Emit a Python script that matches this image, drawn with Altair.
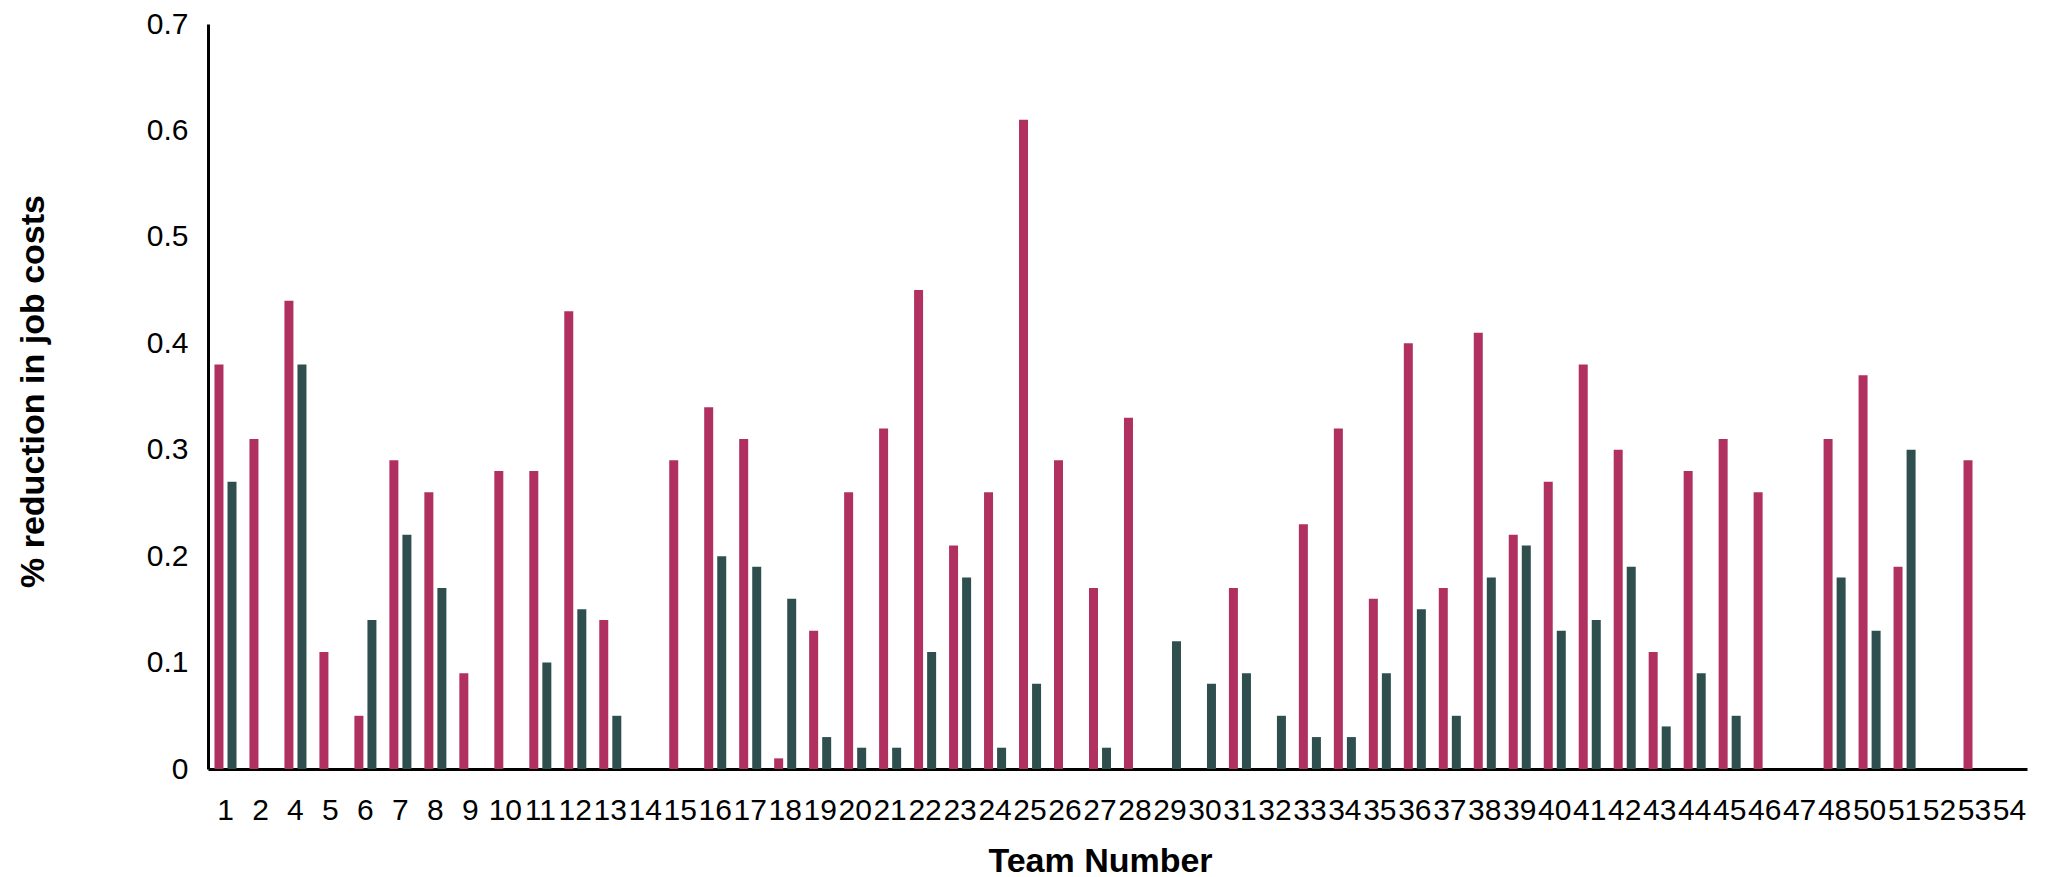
import altair as alt
import pandas as pd

teams = ["1", "2", "4", "5", "6", "7", "8", "9", "10", "11", "12", "13", "14",
         "15", "16", "17", "18", "19", "20", "21", "22", "23", "24", "25", "26",
         "27", "28", "29", "30", "31", "32", "33", "34", "35", "36", "37", "38",
         "39", "40", "41", "42", "43", "44", "45", "46", "47", "48", "50", "51",
         "52", "53", "54"]

series_1 = [0.38, 0.31, 0.44, 0.11, 0.05, 0.29, 0.26, 0.09, 0.28, 0.28, 0.43, 0.14, 0.0,
            0.29, 0.34, 0.31, 0.01, 0.13, 0.26, 0.32, 0.45, 0.21, 0.26, 0.61, 0.29,
            0.17, 0.33, 0.0, 0.0, 0.17, 0.0, 0.23, 0.32, 0.16, 0.40, 0.17, 0.41,
            0.22, 0.27, 0.38, 0.30, 0.11, 0.28, 0.31, 0.26, 0.0, 0.31, 0.37, 0.19,
            0.0, 0.29, 0.0]

series_2 = [0.27, 0.0, 0.38, 0.0, 0.14, 0.22, 0.17, 0.0, 0.0, 0.10, 0.15, 0.05, 0.0,
            0.0, 0.20, 0.19, 0.16, 0.03, 0.02, 0.02, 0.11, 0.18, 0.02, 0.08, 0.0,
            0.02, 0.0, 0.12, 0.08, 0.09, 0.05, 0.03, 0.03, 0.09, 0.15, 0.05, 0.18,
            0.21, 0.13, 0.14, 0.19, 0.04, 0.09, 0.05, 0.0, 0.0, 0.18, 0.13, 0.30,
            0.0, 0.0, 0.0]

series_names = ["Series 1", "Series 2"]
series_colors = ["#B03060", "#2F4F4F"]
y_ticks = [0, 0.1, 0.2, 0.3, 0.4, 0.5, 0.6, 0.7]

rows = []
for t, a, b in zip(teams, series_1, series_2):
    rows.append({"team": t, "series": series_names[0], "value": a})
    rows.append({"team": t, "series": series_names[1], "value": b})
df = pd.DataFrame(rows)

chart = alt.Chart(df).mark_bar().encode(
    x=alt.X("team:N", sort=teams,
            scale=alt.Scale(domain=teams, paddingInner=0.37, paddingOuter=0.185),
            axis=alt.Axis(title="Team Number", labelAngle=0, labelPadding=26,
                          labelFontSize=30, titleFontSize=34, titleFontWeight="bold",
                          titleX=892, titleY=75, titleBaseline="top", titleAlign="center")),
    xOffset=alt.XOffset("series:N", sort=series_names,
                        scale=alt.Scale(domain=series_names, paddingInner=0.31, paddingOuter=0)),
    y=alt.Y("value:Q", scale=alt.Scale(domain=[0, 0.7], nice=False, zero=True),
            axis=alt.Axis(title="% reduction in job costs", values=y_ticks, format=".1~f",
                          labelPadding=20, labelFontSize=30, titleFontSize=34,
                          titleFontWeight="bold", titleAngle=270, titleX=-175, titleY=367,
                          titleBaseline="middle", titleAlign="center")),
    color=alt.Color("series:N", scale=alt.Scale(domain=series_names, range=series_colors),
                    legend=None),
).properties(
    width=1819,
    height=745,
    autosize=alt.AutoSizeParams(type="none"),
    padding={"left": 200, "top": 16, "right": 5, "bottom": 108},
).configure_view(
    stroke=None
).configure_axis(
    grid=False,
    ticks=False,
    tickSize=0,
    domainColor="#000000",
    domainWidth=3,
    labelFont="Liberation Sans",
    titleFont="Liberation Sans",
    labelColor="#000000",
    titleColor="#000000",
)

chart.save("out.html", embed_options={"renderer": "svg", "actions": False})
